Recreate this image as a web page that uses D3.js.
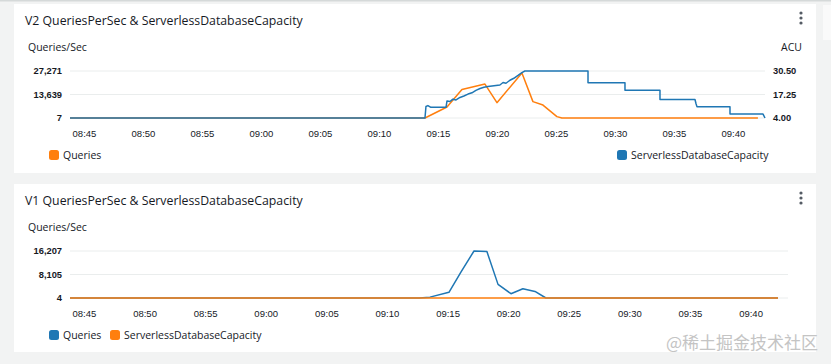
<!DOCTYPE html>
<html><head><meta charset="utf-8">
<script src="https://cdn.jsdelivr.net/npm/d3@7"></script>
<style>
html,body{margin:0;padding:0;background:#f2f3f3;}
svg{display:block;font-family:"Open Sans","Noto Sans",sans-serif;}
</style></head><body>
<svg id="c" width="831" height="364"></svg>
<script>
// ---------- data ----------
const xTickLabels = ["08:45","08:50","08:55","09:00","09:05","09:10","09:15","09:20","09:25","09:30","09:35","09:40"];

// V2 chart
const v2Title = "V2 QueriesPerSec & ServerlessDatabaseCapacity";
const v2LeftTicks = [7, 13639, 27271];
const v2RightTicks = [4.00, 17.25, 30.50];
const v2QueriesTimes = ["08:43:49","09:13:54","09:15:46","09:17:02","09:18:59","09:20:00","09:22:07","09:23:03","09:23:54","09:25:05","09:25:30","09:42:07"];
const v2QueriesValues = [7, 7, 6400, 16600, 19700, 8900, 26100, 9500, 7500, 800, 7, 7];
const v2CapacityTimes = ["08:43:49","09:13:54","09:13:59","09:14:09","09:14:24","09:15:41","09:15:46","09:16:01","09:16:16","09:16:32","09:16:52","09:17:12","09:17:33","09:17:53","09:18:13","09:18:34","09:18:54","09:19:14","09:19:35","09:19:55","09:20:15","09:20:31","09:20:46","09:21:06","09:21:26","09:21:47","09:22:07","09:22:22","09:27:43","09:27:43","09:30:51","09:30:51","09:33:49","09:33:49","09:36:47","09:36:52","09:36:57","09:39:45","09:39:45","09:42:33","09:42:43"];
const v2CapacityValues = [4, 4, 10.5, 11.0, 10.0, 10.0, 13.6, 13.3, 14.6, 14.2, 15.6, 16.4, 17.5, 18.2, 19.6, 20.6, 21.3, 21.7, 22.0, 22.3, 22.6, 24.0, 23.6, 25.3, 26.4, 28.0, 29.6, 30.5, 30.5, 23.9, 23.9, 19.6, 19.6, 14.4, 14.4, 12.2, 10.4, 10.4, 6.2, 6.2, 4.0];

// V1 chart
const v1Title = "V1 QueriesPerSec & ServerlessDatabaseCapacity";
const v1LeftTicks = [4, 8105, 16207];
const v1QueriesTimes = ["08:43:51","09:12:40","09:13:33","09:15:07","09:16:07","09:17:11","09:18:15","09:19:10","09:20:14","09:21:13","09:22:13","09:23:07","09:42:16"];
const v1QueriesValues = [4, 4, 300, 1957, 9014, 16207, 16000, 4700, 1476, 3190, 2265, 4, 4];
const v1CapacityTimes = ["08:43:51","09:42:16"];
const v1CapacityValues = [8, 8];

const BLUE = "#1f77b4", ORANGE = "#ff7f0e";
const parseT = d3.timeParse("%H:%M:%S");
const parseM = d3.timeParse("%H:%M");

const svg = d3.select("#c");

// page chrome
svg.append("rect").attr("x",0).attr("y",0).attr("width",831).attr("height",364).attr("fill","#f2f3f3");
svg.append("rect").attr("x",0).attr("y",0).attr("width",831).attr("height",1.5).attr("fill","#d5d9d9");
svg.append("rect").attr("x",823).attr("y",5).attr("width",8).attr("height",35).attr("fill","#fafafa");

function series(times, values){ return times.map((t,i)=>({t:parseT(t), v:values[i]})); }

function drawChart(cfg){
  const g = svg.append("g").attr("transform",`translate(0,${cfg.top})`);
  g.append("rect").attr("x",14).attr("y",0).attr("width",802).attr("height",cfg.h).attr("fill","#fff");
  g.append("text").attr("x",25).attr("y",21).attr("font-size",12.3).attr("fill","#16191f").text(cfg.title);
  // kebab
  [9,14,19].forEach(y=>g.append("circle").attr("cx",801).attr("cy",y).attr("r",1.6).attr("fill","#545b64"));
  g.append("text").attr("x",28).attr("y",47).attr("font-size",10.5).attr("fill","#16191f").text("Queries/Sec");

  const x = d3.scaleTime().domain(cfg.xDomain.map(parseT)).range(cfg.xRange);
  const yL = d3.scaleLinear().domain(cfg.leftDomain).range([114,67]);

  // grid
  g.append("g").selectAll("line").data(cfg.leftTicks).join("line")
    .attr("x1",70).attr("x2",cfg.gridRight).attr("y1",d=>yL(d)).attr("y2",d=>yL(d))
    .attr("stroke","#eaeded").attr("stroke-width",1);

  // left axis labels
  const la = g.append("g").attr("transform","translate(62,0)")
    .call(d3.axisLeft(yL).tickValues(cfg.leftTicks).tickFormat(d3.format(",")).tickSize(0).tickPadding(0));
  la.select(".domain").remove();
  la.selectAll("text").attr("font-size",9.3).attr("font-weight",600).attr("fill","#16191f").attr("font-family",null);

  let yR = null;
  if (cfg.rightTicks){
    yR = d3.scaleLinear().domain(cfg.rightDomain).range([114,67]);
    const ra = g.append("g").attr("transform","translate(773,0)")
      .call(d3.axisRight(yR).tickValues(cfg.rightTicks).tickFormat(d3.format(".2f")).tickSize(0).tickPadding(0));
    ra.select(".domain").remove();
    ra.selectAll("text").attr("font-size",9.3).attr("font-weight",600).attr("fill","#16191f").attr("font-family",null);
    g.append("text").attr("x",802).attr("y",47).attr("text-anchor","end").attr("font-size",10.5).attr("fill","#16191f").text("ACU");
  }

  // x axis labels
  const xa = g.append("g").attr("transform","translate(0,126)")
    .call(d3.axisBottom(x).tickValues(xTickLabels.map(parseM)).tickFormat(d3.timeFormat("%H:%M")).tickSize(0).tickPadding(0));
  xa.select(".domain").remove();
  xa.selectAll("text").attr("font-size",9.5).attr("fill","#16191f").attr("font-family",null).attr("dy","0.71em");

  // lines
  cfg.lines.forEach(L=>{
    const ys = L.axis==="right" ? yR : yL;
    g.append("path").datum(L.data)
      .attr("fill","none").attr("stroke",L.color).attr("stroke-width",1.5).attr("stroke-linejoin","round")
      .attr("d", d3.line().x(d=>x(d.t)).y(d=>ys(d.v)));
  });

  // legend
  cfg.legend.forEach(it=>{
    g.append("rect").attr("x",it.x).attr("y",146).attr("width",10).attr("height",10).attr("rx",2.5).attr("fill",it.color);
    g.append("text").attr("x",it.x+14).attr("y",155).attr("font-size",10.5).attr("fill","#16191f").text(it.label);
  });
}

drawChart({
  top:4, h:169, title:v2Title,
  xDomain:["08:43:49","09:42:43"], xRange:[70,765], gridRight:765,
  leftDomain:[7,27271], leftTicks:v2LeftTicks,
  rightDomain:[4,30.5], rightTicks:v2RightTicks,
  lines:[
    {data:series(v2QueriesTimes,v2QueriesValues), color:ORANGE, axis:"left"},
    {data:series(v2CapacityTimes,v2CapacityValues), color:BLUE, axis:"right"}
  ],
  legend:[{x:49,color:ORANGE,label:"Queries"},{x:617,color:BLUE,label:"ServerlessDatabaseCapacity"}]
});

drawChart({
  top:184, h:168, title:v1Title,
  xDomain:["08:43:51","09:42:16"], xRange:[70,778], gridRight:788,
  leftDomain:[4,16207], leftTicks:v1LeftTicks,
  lines:[
    {data:series(v1QueriesTimes,v1QueriesValues), color:BLUE, axis:"left"},
    {data:series(v1CapacityTimes,v1CapacityValues), color:ORANGE, axis:"left"}
  ],
  legend:[{x:49,color:BLUE,label:"Queries"},{x:110,color:ORANGE,label:"ServerlessDatabaseCapacity"}]
});

// watermark
svg.append("text").attr("x",818).attr("y",349).attr("text-anchor","end")
  .attr("font-family",'"Noto Sans CJK SC",sans-serif').attr("font-size",17).attr("fill","#c4c4c4")
  .text("@稀土掘金技术社区");
</script>
</body></html>
